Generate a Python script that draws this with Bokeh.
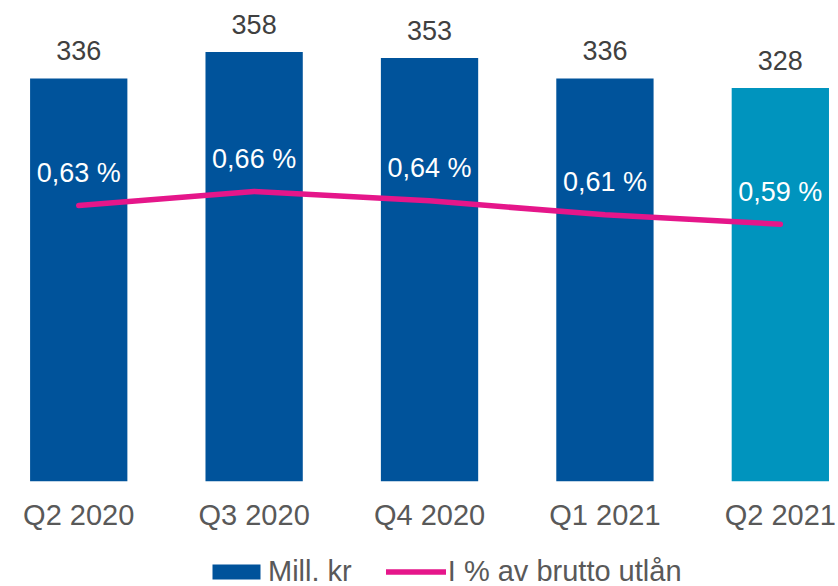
from bokeh.plotting import figure
from bokeh.layouts import column
from bokeh.models import ColumnDataSource, Range1d, FixedTicker, Legend, LegendItem
from bokeh.core.properties import value
from bokeh.embed import file_html
from bokeh.resources import INLINE

# ---- data ----
quarters = ["Q2 2020", "Q3 2020", "Q4 2020", "Q1 2021", "Q2 2021"]
mill_kr = [336, 358, 353, 336, 328]
pct_of_gross_loans = [0.63, 0.66, 0.64, 0.61, 0.59]
bar_colors = ["#00539B", "#00539B", "#00539B", "#00539B", "#0094BE"]
series_names = ["Mill. kr", "I % av brutto utlån"]

FONT = "Liberation Sans"
BAR_BLUE = "#00539B"
LINE_PINK = "#E5168A"
idx = list(range(len(quarters)))

src = ColumnDataSource(dict(
    x=idx,
    q=quarters,
    val=mill_kr,
    val_lbl=[str(v) for v in mill_kr],
    pct=pct_of_gross_loans,
    pct_lbl=[f"{v:.2f} %".replace(".", ",") for v in pct_of_gross_loans],
    color=bar_colors,
))

MAIN_H = 534
p = figure(width=838, height=MAIN_H,
           x_range=Range1d(-0.446, 4.3316), y_range=Range1d(0, 401),
           output_backend="svg", toolbar_location=None,
           y_axis_location=None,
           min_border_left=0, min_border_right=0, min_border_top=0,
           min_border_bottom=MAIN_H - 481)
p.extra_y_ranges = {"pct": Range1d(0.0388, 1.0692)}
p.outline_line_color = None
p.xgrid.visible = False
p.ygrid.visible = False
p.background_fill_color = "white"
p.border_fill_color = "white"

bars = p.vbar(x="x", top="val", width=0.5547, bottom=0, source=src,
              fill_color="color", line_color=None)

line = p.line(x="x", y="pct", source=src, y_range_name="pct",
              line_color=LINE_PINK, line_width=5.5, line_cap="round", line_join="round")

p.text(x="x", y="val", text="val_lbl", source=src, y_offset=-27.5,
       text_align="center", text_baseline="alphabetic",
       text_font=value(FONT), text_font_size="27px", text_color="#404040")

p.text(x="x", y="pct", text="pct_lbl", source=src, y_range_name="pct", y_offset=-32.5,
       text_align="center", text_baseline="alphabetic",
       text_font=value(FONT), text_font_size="27px", text_color="white")

ax = p.xaxis[0]
ax.ticker = FixedTicker(ticks=idx)
ax.major_label_overrides = {i: q for i, q in zip(idx, quarters)}
ax.axis_line_color = None
ax.major_tick_line_color = None
ax.minor_tick_line_color = None
ax.major_label_text_font = FONT
ax.major_label_text_font_size = "29px"
ax.major_label_text_color = "#595959"
ax.major_label_standoff = 11

# ---- legend strip (separate small figure so it is not clipped by the main frame) ----
LEG_H = 586 - MAIN_H
pl = figure(width=838, height=LEG_H, x_range=Range1d(-0.446, 4.3316),
            y_range=Range1d(5000, 5001), extra_y_ranges={"pct": Range1d(5000, 5001)},
            output_backend="svg", toolbar_location=None,
            x_axis_location=None, y_axis_location=None,
            min_border_left=0, min_border_right=0, min_border_top=0, min_border_bottom=0)
pl.outline_line_color = None
pl.xgrid.visible = False
pl.ygrid.visible = False
pl.background_fill_color = "white"
pl.border_fill_color = "white"

# same series, but outside this strip's visible range: only their legend swatches show
leg_bar = pl.vbar(x="x", top="val", width=0.5547, bottom=0, source=src,
                  fill_color=BAR_BLUE, line_color=None)
leg_line = pl.line(x="x", y="pct", source=src, y_range_name="pct",
                   line_color=LINE_PINK, line_width=5.5, line_cap="round")

legend = Legend(items=[LegendItem(label=series_names[0], renderers=[leg_bar], index=0),
                       LegendItem(label=series_names[1], renderers=[leg_line])],
                location=(206, -2), orientation="horizontal",
                glyph_width=60, glyph_height=19, label_standoff=2, spacing=34,
                padding=0, margin=0, border_line_color=None,
                background_fill_alpha=0,
                label_text_font=FONT, label_text_font_size="29px",
                label_text_color="#595959")
pl.add_layout(legend, "center")

layout = column(p, pl, spacing=0)
open("out.html", "w").write(file_html(layout, INLINE))
